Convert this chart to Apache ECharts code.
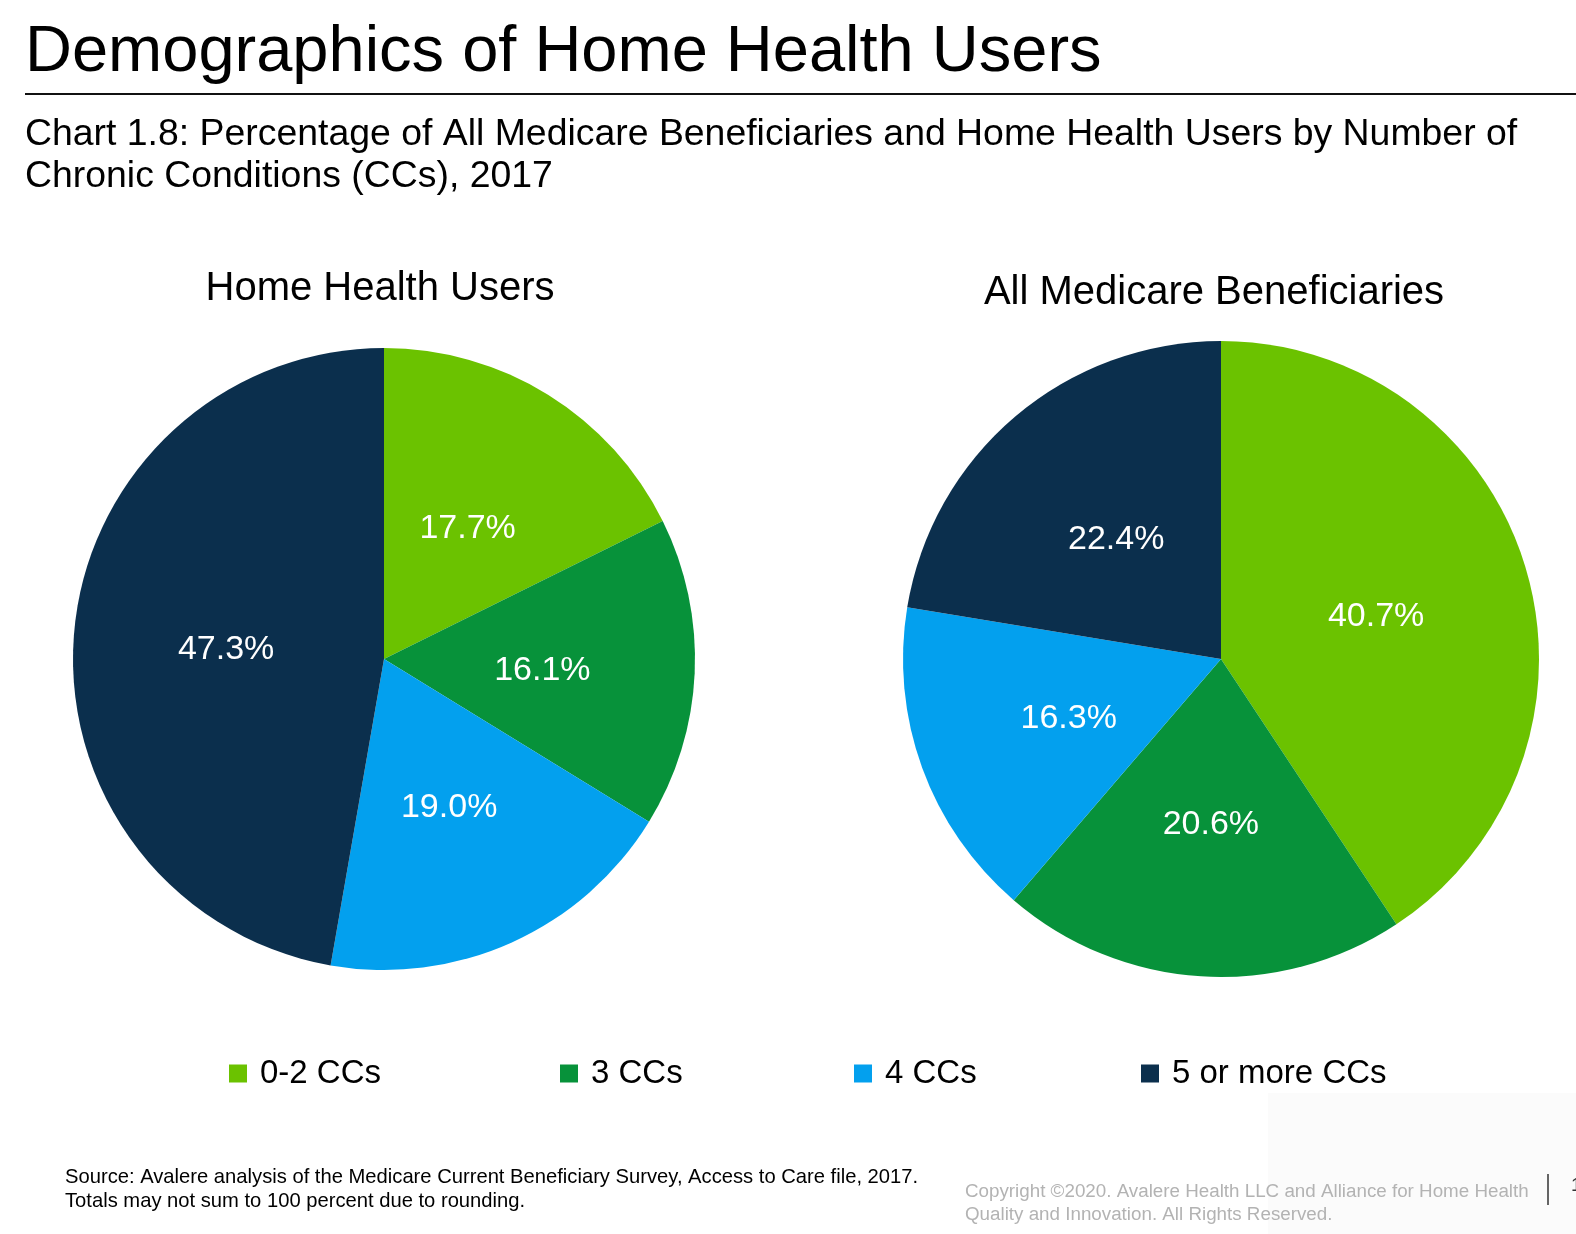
<!DOCTYPE html>
<html>
<head>
<meta charset="utf-8">
<script src="https://cdn.jsdelivr.net/npm/echarts@6/dist/echarts.min.js"></script>
<style>
html,body{margin:0;padding:0;background:#fff;}
#chart{width:1576px;height:1234px;}
</style>
</head>
<body>
<div id="chart"></div>
<script>
const categories = ['0-2 CCs', '3 CCs', '4 CCs', '5 or more CCs'];
const homeHealthUsers = [17.7, 16.1, 19.0, 47.3];
const allMedicare = [40.7, 20.6, 16.3, 22.4];
const colors = ['#6BC200', '#07923A', '#03A0EE', '#0B2F4D'];

const FONT = '"Liberation Sans", Arial, Helvetica, sans-serif';
const chart = echarts.init(document.getElementById('chart'), null, {renderer: 'canvas'});

function pieData(vals) {
  return categories.map((c, i) => ({name: c, value: vals[i]}));
}
const legendLefts = [229, 560, 854, 1141];

const pieLabel = {
  position: 'inside',
  formatter: p => p.value.toFixed(1) + '%',
  color: '#fff',
  fontSize: 34,
  fontFamily: FONT,
  offset: [0, 4]
};

const option = {
  animation: false,
  color: colors,
  textStyle: {fontFamily: FONT},
  legend: categories.map((c, i) => ({
    data: [c],
    left: legendLefts[i],
    top: 1057,
    padding: 0,
    icon: 'rect',
    itemWidth: 18,
    itemHeight: 18,
    itemGap: 0,
    selectedMode: false,
    textStyle: {fontFamily: FONT, fontSize: 33, color: '#000', padding: [0, 0, 0, 8]}
  })),
  series: [
    {
      type: 'pie',
      center: [384, 659],
      radius: [0, 311],
      startAngle: 90,
      clockwise: true,
      data: pieData(homeHealthUsers),
      label: pieLabel,
      labelLine: {show: false},
      itemStyle: {borderWidth: 0},
      emphasis: {disabled: true}
    },
    {
      type: 'pie',
      center: [1221, 659],
      radius: [0, 318],
      startAngle: 90,
      clockwise: true,
      data: pieData(allMedicare),
      label: pieLabel,
      labelLine: {show: false},
      itemStyle: {borderWidth: 0},
      emphasis: {disabled: true}
    }
  ],
  graphic: [
    {type: 'rect', left: 1268, top: 1093, shape: {width: 308, height: 141}, style: {fill: '#fbfbfb'}, z: -1},
    {type: 'text', x: 25, y: 53, style: {text: 'Demographics of Home Health Users', font: '65px ' + FONT, fill: '#000', verticalAlign: 'middle', textAlign: 'left'}},
    {type: 'line', shape: {x1: 25, y1: 94, x2: 1576, y2: 94}, style: {stroke: '#111', lineWidth: 2}},
    {type: 'text', x: 25, y: 135, style: {text: 'Chart 1.8: Percentage of All Medicare Beneficiaries and Home Health Users by Number of', font: '37.4px ' + FONT, fill: '#000', verticalAlign: 'middle'}},
    {type: 'text', x: 25, y: 177, style: {text: 'Chronic Conditions (CCs), 2017', font: '37.4px ' + FONT, fill: '#000', verticalAlign: 'middle'}},
    {type: 'text', x: 380, y: 289, style: {text: 'Home Health Users', font: '40px ' + FONT, fill: '#000', verticalAlign: 'middle', textAlign: 'center'}},
    {type: 'text', x: 1214, y: 293, style: {text: 'All Medicare Beneficiaries', font: '40px ' + FONT, fill: '#000', verticalAlign: 'middle', textAlign: 'center'}},
    {type: 'text', x: 65, y: 1177, style: {text: 'Source: Avalere analysis of the Medicare Current Beneficiary Survey, Access to Care file, 2017.', font: '20.2px ' + FONT, fill: '#000', verticalAlign: 'middle'}},
    {type: 'text', x: 65, y: 1201, style: {text: 'Totals may not sum to 100 percent due to rounding.', font: '20.2px ' + FONT, fill: '#000', verticalAlign: 'middle'}},
    {type: 'text', x: 965, y: 1192, style: {text: 'Copyright \u00a92020. Avalere Health LLC and Alliance for Home Health', font: '18.8px ' + FONT, fill: '#b3b3b3', verticalAlign: 'middle'}},
    {type: 'text', x: 965, y: 1215, style: {text: 'Quality and Innovation. All Rights Reserved.', font: '18.8px ' + FONT, fill: '#b3b3b3', verticalAlign: 'middle'}},
    {type: 'line', shape: {x1: 1548, y1: 1174, x2: 1548, y2: 1205}, style: {stroke: '#333', lineWidth: 1.5}},
    {type: 'text', x: 1571, y: 1186, style: {text: '1', font: '19px ' + FONT, fill: '#333', verticalAlign: 'middle'}}
  ]
};
chart.setOption(option);
</script>
</body>
</html>
